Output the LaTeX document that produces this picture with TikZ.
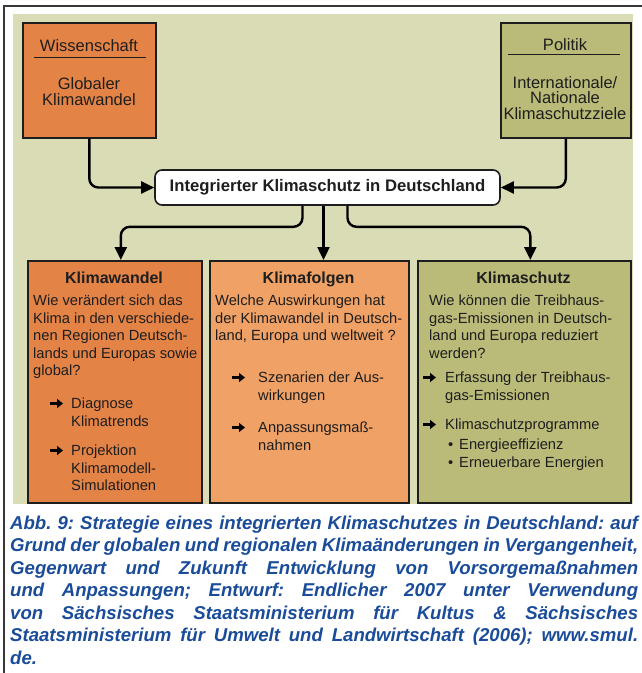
\documentclass[tikz,border=0pt]{standalone}
\usepackage{fontspec}
\setmainfont{Liberation Sans}
\usetikzlibrary{arrows.meta,positioning}
\frenchspacing

\definecolor{bgkhaki}{RGB}{218,220,182}
\definecolor{orangedark}{RGB}{228,131,70}
\definecolor{orangelight}{RGB}{240,161,101}
\definecolor{olivebox}{RGB}{187,187,121}
\definecolor{capblue}{RGB}{26,76,154}
\definecolor{framegrey}{RGB}{55,55,55}
\definecolor{inkgrey}{RGB}{30,30,30}

\tikzset{
  box/.style={draw=inkgrey, line width=1.6pt, anchor=north west, inner sep=0pt},
  headline/.style={font=\fontsize{16}{18}\selectfont\bfseries, text=inkgrey, anchor=base, inner sep=0pt},
  toptxt/.style={font=\fontsize{16.5}{18}\selectfont, text=inkgrey, anchor=base, inner sep=0pt},
  txt/.style={font=\fontsize{14.7}{17}\selectfont, text=inkgrey, anchor=base west, inner sep=0pt},
  itemarrow/.style={draw=black, line width=2.3pt, -{Triangle[length=6pt,width=9pt]}},
  conn/.style={draw=black, line width=2.4pt, -{Triangle[length=13pt,width=12pt]}, rounded corners=9pt},
  captxt/.style={font=\fontsize{18.6}{22}\selectfont\bfseries\itshape, text=capblue, anchor=base west, inner sep=0pt}
}

\begin{document}
\begin{tikzpicture}[x=1pt,y=-1pt]
\useasboundingbox (0,0) rectangle (642,673);
\fill[white] (0,0) rectangle (642,673);
\draw[framegrey,line width=2pt] (4,673) -- (4,6) -- (642,6);
\fill[bgkhaki] (13,14) rectangle (633,504);

% top boxes
\node[box,fill=orangedark,minimum width=133pt,minimum height=115pt] (wiss) at (22,22) {};
\node[box,fill=olivebox,minimum width=130pt,minimum height=115pt] (pol) at (500,22) {};
\node[toptxt] (wiss-t) at (89,51) {Wissenschaft};
\draw[inkgrey,line width=1pt] ([shift={(12,35)}]wiss.north west) -- ([shift={(-11,35)}]wiss.north east);
\node[toptxt] (wiss-1) at (89,89) {Globaler};
\node[toptxt] (wiss-2) at (89,105) {Klimawandel};
\node[toptxt] (pol-t) at (565,50) {Politik};
\draw[inkgrey,line width=1pt] ([shift={(8,32)}]pol.north west) -- ([shift={(-12,32)}]pol.north east);
\node[toptxt] (pol-1) at (565,88) {Internationale/};
\node[toptxt] (pol-2) at (565,103.5) {Nationale};
\node[toptxt] (pol-3) at (565,119) {Klimaschutzziele};

% middle
\node[draw=inkgrey,line width=1.6pt,fill=white,rounded corners=7pt,minimum width=345pt,minimum height=35pt,
  font=\fontsize{16.7}{18}\selectfont\bfseries,text=inkgrey] (center) at (327.5,187.5) {Integrierter Klimaschutz in Deutschland};

% lower boxes
\node[box,fill=orangedark,minimum width=174pt,minimum height=242pt] (kw) at (27,260) {};
\node[box,fill=orangelight,minimum width=199pt,minimum height=242pt] (kf) at (209,260) {};
\node[box,fill=olivebox,minimum width=213pt,minimum height=242pt] (ks) at (417,260) {};

\draw[conn] (wiss.south) |- (center.west);
\draw[conn] (pol.south) |- (center.east);
\draw[conn] ([xshift=-25pt]center.south) -- ++(0,21) -| ([xshift=6pt]kw.north);
\draw[conn] ([xshift=-4pt]center.south) -- ([xshift=-4pt]center.south |- kf.north);
\draw[conn] ([xshift=20pt]center.south) -- ++(0,21) -| ([xshift=6pt]ks.north);

% item arrows
\foreach \n/\x/\y in {kw-a1/50/403.5, kw-a2/50/450.5, kf-a1/232/377.5, kf-a2/232/427.5, ks-a1/423/377.5, ks-a2/423/424.5}
{
  \coordinate (\n) at (\x,\y);
  \draw[itemarrow] (\n) -- ++(13,0);
}

% Klimawandel
\node[headline] (kw-t) at (114,283) {Klimawandel};
\foreach \l [count=\i from 0] in {Wie verändert sich das, Klima in den verschiede-, nen Regionen Deutsch-, lands und Europas sowie, global?}
  \node[txt] (kw-l\i) at (33,305.5+17.6*\i) {\l};
\foreach \y/\t [count=\i] in {408.5/Diagnose, 426/Klimatrends, 455.5/Projektion, 473/Klimamodell-, 490.5/Simulationen}
  \node[txt] (kw-p\i) at (71,\y) {\t};

% Klimafolgen
\node[headline] (kf-t) at (308.5,283) {Klimafolgen};
\foreach \l [count=\i from 0] in {Welche Auswirkungen hat, der Klimawandel in Deutsch-, {land, Europa und weltweit ?}}
  \node[txt] (kf-l\i) at (215,305.5+17.6*\i) {\l};
\foreach \y/\t [count=\i] in {382.5/Szenarien der Aus-, 400/wirkungen, 432.5/Anpassungsmaß-, 450/nahmen}
  \node[txt] (kf-p\i) at (258,\y) {\t};

% Klimaschutz
\node[headline] (ks-t) at (523.5,283) {Klimaschutz};
\foreach \l [count=\i from 0] in {Wie können die Treibhaus-, gas-Emissionen in Deutsch-, land und Europa reduziert, werden?}
  \node[txt] (ks-l\i) at (429,305.5+17.6*\i) {\l};
\foreach \y/\t [count=\i] in {382.5/Erfassung der Treibhaus-, 400/gas-Emissionen, 429.5/Klimaschutzprogramme}
  \node[txt] (ks-p\i) at (445,\y) {\t};
\node[txt] (ks-b1) at (448,449) {•};
\node[txt] (ks-b2) at (448,467) {•};
\node[txt] (ks-e1) at (459,449) {Energieeffizienz};
\node[txt] (ks-e2) at (459,467) {Erneuerbare Energien};

% caption
\foreach \l [count=\i from 0] in {{Abb. 9: Strategie eines integrierten Klimaschutzes in Deutschland: auf},
  {Grund der globalen und regionalen Klimaänderungen in Vergangenheit,},
  {Gegenwart und Zukunft Entwicklung von Vorsorgemaßnahmen},
  {und Anpassungen; Entwurf: Endlicher 2007 unter Verwendung},
  {von Sächsisches Staatsministerium für Kultus \& Sächsisches},
  {Staatsministerium für Umwelt und Landwirtschaft (2006); www.smul.}}
  \node[captxt] (cap\i) at (10,529+22.5*\i) {\makebox[628pt][s]{\l}};
\node[captxt] (cap6) at (10,664) {de.};
\end{tikzpicture}
\end{document}
